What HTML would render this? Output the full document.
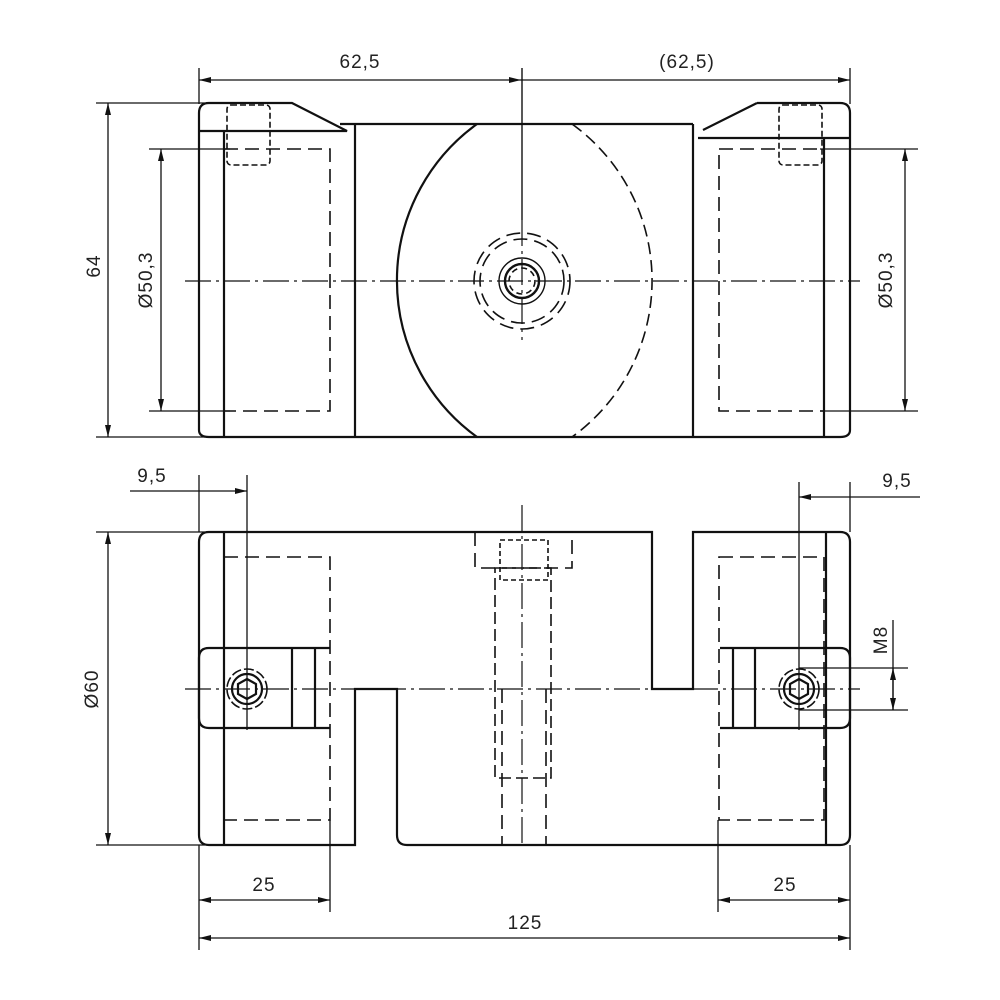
<!DOCTYPE html>
<html><head><meta charset="utf-8"><style>
html,body{margin:0;padding:0;background:#fff}
svg{display:block}
text{font-family:"Liberation Sans",sans-serif;font-size:19px;fill:#222;letter-spacing:1px}
</style></head><body>
<svg width="1000" height="1000" viewBox="0 0 1000 1000" xmlns="http://www.w3.org/2000/svg">
<defs>
<marker id="a" viewBox="0 0 12 6" refX="12" refY="3" markerWidth="12" markerHeight="6" orient="auto-start-reverse" markerUnits="userSpaceOnUse"><path d="M0,0 L12,3 L0,6 z" fill="#111"/></marker>
</defs>
<g fill="none" stroke="#111">
<!-- ===== TOP VIEW ===== -->
<g stroke-width="2.2">
<path d="M209,103 L292,103 L347,131 L199,131"/>
<path d="M209,103 Q199,103 199,113 L199,430 Q199,437 209,437 L224,437"/>
<line x1="224" y1="131" x2="224" y2="437"/>
<path d="M340,124 L693,124"/>
<line x1="355" y1="124" x2="355" y2="437"/>
<line x1="224" y1="437" x2="840" y2="437"/>
<path d="M840,103 Q850,103 850,113 L850,430 Q850,437 840,437"/>
<path d="M757,103 L840,103"/>
<path d="M757,103 L703,130"/>
<line x1="698" y1="138" x2="850" y2="138"/>
<line x1="824" y1="138" x2="824" y2="437"/>
<line x1="693" y1="124" x2="693" y2="437"/>
<path d="M477,124 A193,193 0 0 0 477,437"/>
</g>
<path d="M572,124 A193,193 0 0 1 572,437" stroke-width="1.6" stroke-dasharray="12,6"/>
<g stroke-width="1.6" stroke-dasharray="14,7">
<rect x="224" y="149" width="106" height="262"/>
<rect x="719" y="149" width="105" height="262"/>
<circle cx="522" cy="281" r="48"/>
<circle cx="522" cy="281" r="42"/>
<circle cx="522" cy="281" r="13" stroke-dasharray="6,4"/>
<rect x="227" y="105" width="43" height="60" rx="4" stroke-dasharray="6,3"/>
<rect x="779" y="105" width="43" height="60" rx="4" stroke-dasharray="6,3"/>
</g>
<circle cx="522" cy="281" r="17" stroke-width="2.4"/>
<circle cx="522" cy="281" r="23" stroke-width="1.4"/>
<!-- center lines -->
<g stroke-width="1.2" stroke-dasharray="26,5,3,5">
<line x1="185" y1="281" x2="860" y2="281"/>
<line x1="522" y1="220" x2="522" y2="340"/>
<line x1="185" y1="689" x2="860" y2="689"/>
</g>
<line x1="522" y1="68" x2="522" y2="220" stroke-width="1.4"/>
<!-- ===== BOTTOM VIEW ===== -->
<g stroke-width="2.2">
<path d="M209,532 L652,532 L652,689 L693,689 L693,532 L840,532 Q850,532 850,542 L850,835 Q850,845 840,845 L407,845 Q397,845 397,835 L397,689 L355,689 L355,845 L209,845 Q199,845 199,835 L199,542 Q199,532 209,532 Z"/>
<line x1="224" y1="532" x2="224" y2="845"/>
<line x1="826" y1="532" x2="826" y2="845"/>
<path d="M330,648 L209,648 Q199,648 199,658 L199,718 Q199,728 209,728 L330,728"/>
<line x1="292" y1="648" x2="292" y2="728"/>
<line x1="315" y1="648" x2="315" y2="728"/>
<path d="M720,648 L840,648 Q850,648 850,658 L850,718 Q850,728 840,728 L720,728"/>
<line x1="733" y1="648" x2="733" y2="728"/>
<line x1="755" y1="648" x2="755" y2="728"/>
<polygon points="247,679 256,684 256,694 247,699 238,694 238,684"/>
<polygon points="799,679 808,684 808,694 799,699 790,694 790,684"/>
<circle cx="247" cy="689" r="15"/>
<circle cx="799" cy="689" r="15"/>
</g>
<g stroke-width="1.6" stroke-dasharray="14,7">
<rect x="224" y="557" width="106" height="263"/>
<rect x="719" y="557" width="105" height="263"/>
<circle cx="247" cy="689" r="20" stroke-dasharray="10,3"/>
<circle cx="799" cy="689" r="20" stroke-dasharray="10,3"/>
<rect x="475" y="532" width="97" height="36"/>
<rect x="495" y="568" width="56" height="210" stroke-dasharray="12,5"/>
<line x1="502" y1="689" x2="502" y2="845"/>
<line x1="546" y1="689" x2="546" y2="845"/>
<rect x="500" y="540" width="48" height="40" stroke-dasharray="5,3"/>
</g>
<line x1="522" y1="505" x2="522" y2="845" stroke-width="1.2" stroke-dasharray="26,5,3,5"/>
<!-- ===== DIMENSIONS ===== -->
<g stroke-width="1.3">
<line x1="199" y1="68" x2="199" y2="104"/>
<line x1="850" y1="68" x2="850" y2="104"/>
<line x1="199" y1="80" x2="521" y2="80" marker-start="url(#a)" marker-end="url(#a)"/>
<line x1="521" y1="80" x2="850" y2="80" marker-end="url(#a)"/>
<line x1="96" y1="103" x2="205" y2="103"/>
<line x1="96" y1="437" x2="205" y2="437"/>
<line x1="108" y1="103" x2="108" y2="437" marker-start="url(#a)" marker-end="url(#a)"/>
<line x1="149" y1="149" x2="230" y2="149"/>
<line x1="149" y1="411" x2="230" y2="411"/>
<line x1="161" y1="149" x2="161" y2="411" marker-start="url(#a)" marker-end="url(#a)"/>
<line x1="820" y1="149" x2="918" y2="149"/>
<line x1="820" y1="411" x2="918" y2="411"/>
<line x1="905" y1="149" x2="905" y2="411" marker-start="url(#a)" marker-end="url(#a)"/>
<line x1="199" y1="475" x2="199" y2="532"/>
<line x1="247" y1="475" x2="247" y2="730"/>
<line x1="130" y1="491" x2="247" y2="491" marker-end="url(#a)"/>
<line x1="199" y1="491" x2="199" y2="491"/>
<line x1="850" y1="482" x2="850" y2="532"/>
<line x1="799" y1="482" x2="799" y2="730"/>
<line x1="799" y1="497" x2="920" y2="497" marker-start="url(#a)"/>
<line x1="96" y1="532" x2="205" y2="532"/>
<line x1="96" y1="845" x2="205" y2="845"/>
<line x1="108" y1="532" x2="108" y2="845" marker-start="url(#a)" marker-end="url(#a)"/>
<line x1="799" y1="668" x2="908" y2="668"/>
<line x1="799" y1="710" x2="908" y2="710"/>
<line x1="893" y1="620" x2="893" y2="710" marker-end="url(#a)"/>
<line x1="893" y1="668" x2="893" y2="668"/>
<line x1="893" y1="668" x2="893" y2="710" marker-start="url(#a)"/>
<line x1="199" y1="845" x2="199" y2="950"/>
<line x1="330" y1="820" x2="330" y2="912"/>
<line x1="718" y1="820" x2="718" y2="912"/>
<line x1="850" y1="845" x2="850" y2="950"/>
<line x1="199" y1="900" x2="330" y2="900" marker-start="url(#a)" marker-end="url(#a)"/>
<line x1="718" y1="900" x2="850" y2="900" marker-start="url(#a)" marker-end="url(#a)"/>
<line x1="199" y1="938" x2="850" y2="938" marker-start="url(#a)" marker-end="url(#a)"/>
</g>
</g>
<text x="360" y="68" text-anchor="middle">62,5</text>
<text x="687" y="68" text-anchor="middle">(62,5)</text>
<text transform="translate(100,266) rotate(-90)" text-anchor="middle">64</text>
<text transform="translate(152,280) rotate(-90)" text-anchor="middle">Ø50,3</text>
<text transform="translate(892,280) rotate(-90)" text-anchor="middle">Ø50,3</text>
<text x="152" y="482" text-anchor="middle">9,5</text>
<text x="897" y="487" text-anchor="middle">9,5</text>
<text transform="translate(98,689) rotate(-90)" text-anchor="middle">Ø60</text>
<text transform="translate(887,640) rotate(-90)" text-anchor="middle">M8</text>
<text x="264" y="891" text-anchor="middle">25</text>
<text x="785" y="891" text-anchor="middle">25</text>
<text x="525" y="929" text-anchor="middle">125</text>
</svg>
</body></html>
